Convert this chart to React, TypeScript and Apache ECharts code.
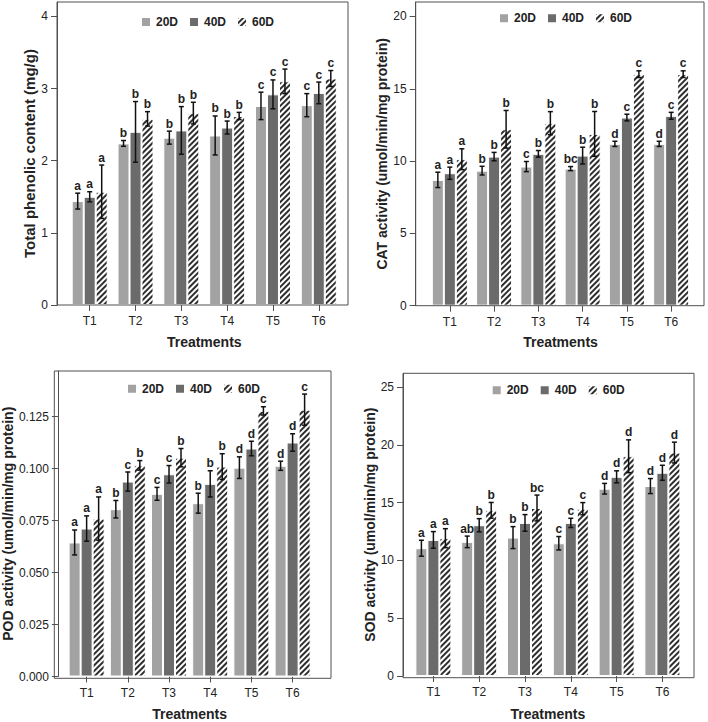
import React, { useEffect, useRef } from "react";
import * as echarts from "echarts";

const CATEGORIES = ["T1", "T2", "T3", "T4", "T5", "T6"];
const SERIES_NAMES = ["20D", "40D", "60D"];

// Total phenolic content (mg/g)
const PHENOLIC_20D = [1.44, 2.24, 2.32, 2.35, 2.76, 2.77];
const PHENOLIC_40D = [1.5, 2.4, 2.42, 2.46, 2.92, 2.94];
const PHENOLIC_60D = [1.57, 2.58, 2.66, 2.62, 3.1, 3.14];
const PHENOLIC_ERR_20D = [0.11, 0.04, 0.09, 0.27, 0.19, 0.16];
const PHENOLIC_ERR_40D = [0.07, 0.42, 0.33, 0.09, 0.2, 0.15];
const PHENOLIC_ERR_60D = [0.37, 0.1, 0.15, 0.05, 0.17, 0.11];
const PHENOLIC_LET_20D = ["a", "b", "b", "b", "c", "c"];
const PHENOLIC_LET_40D = ["a", "b", "b", "b", "c", "c"];
const PHENOLIC_LET_60D = ["a", "b", "b", "b", "c", "c"];
const PHENOLIC_TICKS = [0, 1, 2, 3, 4];

// CAT activity
const CAT_20D = [8.7, 9.34, 9.62, 9.48, 11.19, 11.19];
const CAT_40D = [9.16, 10.31, 10.5, 10.38, 13.01, 13.13];
const CAT_60D = [10.13, 12.2, 12.62, 11.88, 16.01, 16.01];
const CAT_ERR_20D = [0.53, 0.3, 0.35, 0.14, 0.18, 0.18];
const CAT_ERR_40D = [0.42, 0.29, 0.23, 0.58, 0.23, 0.24];
const CAT_ERR_60D = [0.72, 1.3, 0.8, 1.55, 0.23, 0.23];
const CAT_LET_20D = ["a", "b", "c", "bc", "d", "d"];
const CAT_LET_40D = ["a", "b", "b", "b", "c", "c"];
const CAT_LET_60D = ["a", "b", "b", "b", "c", "c"];
const CAT_TICKS = [0, 5, 10, 15, 20];

// POD activity
const POD_20D = [0.0645, 0.0805, 0.0879, 0.0834, 0.1005, 0.1014];
const POD_40D = [0.0712, 0.0938, 0.0973, 0.0927, 0.1097, 0.1126];
const POD_60D = [0.076, 0.1016, 0.1053, 0.101, 0.1278, 0.1284];
const POD_ERR_20D = [0.006, 0.0042, 0.0031, 0.0048, 0.0052, 0.0022];
const POD_ERR_40D = [0.0061, 0.0046, 0.0042, 0.0063, 0.0035, 0.0042];
const POD_ERR_60D = [0.0104, 0.0023, 0.0044, 0.0062, 0.002, 0.0075];
const POD_LET_20D = ["a", "b", "c", "b", "d", "d"];
const POD_LET_40D = ["a", "c", "c", "b", "d", "d"];
const POD_LET_60D = ["a", "b", "b", "b", "c", "c"];
const POD_TICKS = [0, 0.025, 0.05, 0.075, 0.1, 0.125];

// SOD activity
const SOD_20D = [11.06, 11.61, 11.98, 11.49, 16.21, 16.44];
const SOD_40D = [11.78, 13.05, 13.25, 13.25, 17.24, 17.59];
const SOD_60D = [11.93, 14.34, 14.54, 14.48, 19.02, 19.34];
const SOD_ERR_20D = [0.69, 0.5, 0.95, 0.58, 0.46, 0.65];
const SOD_ERR_40D = [0.72, 0.57, 0.72, 0.4, 0.52, 0.65];
const SOD_ERR_60D = [0.82, 0.68, 1.12, 0.53, 1.42, 0.9];
const SOD_LET_20D = ["a", "ab", "b", "c", "d", "d"];
const SOD_LET_40D = ["a", "b", "b", "c", "d", "d"];
const SOD_LET_60D = ["a", "b", "bc", "c", "d", "d"];
const SOD_TICKS = [0, 5, 10, 15, 20, 25];

const FONT = '"Liberation Sans", Arial, Helvetica, sans-serif';
const BAR_W = 12;
const CAP = 2.5;
const AXIS_COLOR = "#505050";
const TEXT_COLOR = "#222";
const COLORS = ["#a2a2a2", "#6b6b6b", "#ffffff"];

const PANELS = [
  {
    yName: "Total phenolic content (mg/g)",
    values: [PHENOLIC_20D, PHENOLIC_40D, PHENOLIC_60D],
    errs: [PHENOLIC_ERR_20D, PHENOLIC_ERR_40D, PHENOLIC_ERR_60D],
    letters: [PHENOLIC_LET_20D, PHENOLIC_LET_40D, PHENOLIC_LET_60D],
    ticks: PHENOLIC_TICKS,
    decimals: 0,
    yMax: 4.2,
    frame: { l: 57, r: 348, t: 2, b: 305 },
    band: { l: 66.8, r: 341.7 },
    yNameGap: 14,
    yNameSize: 15,
    xNameGap: 29.5,
    legend: { left: 140, top: 16 },
  },
  {
    yName: "CAT activity (umol/min/mg protein)",
    values: [CAT_20D, CAT_40D, CAT_60D],
    errs: [CAT_ERR_20D, CAT_ERR_40D, CAT_ERR_60D],
    letters: [CAT_LET_20D, CAT_LET_40D, CAT_LET_60D],
    ticks: CAT_TICKS,
    decimals: 0,
    yMax: 21,
    frame: { l: 415.7, r: 704, t: 2, b: 305.7 },
    band: { l: 427.7, r: 693.3 },
    yNameGap: 20.5,
    yNameSize: 14,
    xNameGap: 29,
    legend: { left: 498, top: 12.3 },
  },
  {
    yName: "POD activity (umol/min/mg protein)",
    values: [POD_20D, POD_40D, POD_60D],
    errs: [POD_ERR_20D, POD_ERR_40D, POD_ERR_60D],
    letters: [POD_LET_20D, POD_LET_40D, POD_LET_60D],
    ticks: POD_TICKS,
    decimals: 3,
    yMax: 0.147,
    frame: { l: 54.3, r: 331, t: 371, b: 678.3 },
    band: { l: 62.4, r: 313.2 },
    yNameGap: 39,
    yNameSize: 14,
    xNameGap: 30.5,
    legend: { left: 126, top: 382.7 },
  },
  {
    yName: "SOD activity (umol/min/mg protein)",
    values: [SOD_20D, SOD_40D, SOD_60D],
    errs: [SOD_ERR_20D, SOD_ERR_40D, SOD_ERR_60D],
    letters: [SOD_LET_20D, SOD_LET_40D, SOD_LET_60D],
    ticks: SOD_TICKS,
    decimals: 0,
    yMax: 26.2,
    frame: { l: 403, r: 694, t: 373.3, b: 677.7 },
    band: { l: 410.5, r: 685.3 },
    yNameGap: 21.7,
    yNameSize: 14,
    xNameGap: 31,
    legend: { left: 490.7, top: 384.3 },
  },
];

function barStyle(k: number) {
  const style: any = {
    color: COLORS[k],
    borderColor: "#ffffff",
    borderWidth: 1,
  };
  if (k === 2) {
    style.decal = {
      symbol: "rect",
      symbolSize: 1,
      dashArrayX: [1, 0],
      dashArrayY: [1.7, 1.2],
      rotation: -Math.PI / 4,
      color: "#2e2e2e",
    };
  }
  return style;
}

function buildOption() {
  const grid: any[] = [];
  const xAxis: any[] = [];
  const yAxis: any[] = [];
  const series: any[] = [];
  const legend: any[] = [];
  const graphic: any[] = [];

  PANELS.forEach((p, i) => {
    grid.push({
      left: p.band.l,
      top: p.frame.t,
      width: p.band.r - p.band.l,
      height: p.frame.b - p.frame.t,
      containLabel: false,
    });
    xAxis.push({
      type: "category",
      gridIndex: i,
      data: CATEGORIES,
      name: "Treatments",
      nameLocation: "middle",
      nameGap: p.xNameGap,
      nameTextStyle: { fontFamily: FONT, fontSize: 14, fontWeight: "bold", color: TEXT_COLOR },
      axisLine: { show: false },
      axisTick: { show: true, alignWithLabel: true, length: 6, lineStyle: { color: AXIS_COLOR } },
      axisLabel: { fontFamily: FONT, fontSize: 12, color: TEXT_COLOR, margin: 10 },
      splitLine: { show: false },
    });
    yAxis.push({
      type: "value",
      gridIndex: i,
      min: 0,
      max: p.yMax,
      offset: p.band.l - p.frame.l,
      name: p.yName,
      nameLocation: "middle",
      nameGap: p.yNameGap,
      nameTextStyle: { fontFamily: FONT, fontSize: p.yNameSize, fontWeight: "bold", color: TEXT_COLOR },
      axisLine: { show: true, lineStyle: { color: AXIS_COLOR } },
      axisTick: { show: true, length: 6, lineStyle: { color: AXIS_COLOR }, customValues: p.ticks },
      axisLabel: {
        fontFamily: FONT,
        fontSize: 12,
        color: TEXT_COLOR,
        margin: 9,
        customValues: p.ticks,
        formatter: (v: number) => v.toFixed(p.decimals),
      },
      splitLine: { show: false },
    });
    SERIES_NAMES.forEach((name, k) => {
      series.push({
        type: "bar",
        name,
        xAxisIndex: i,
        yAxisIndex: i,
        data: p.values[k],
        barWidth: BAR_W,
        barGap: "0%",
        itemStyle: barStyle(k),
        emphasis: { disabled: true },
        z: 2,
      });
    });
    const errData: number[][] = [];
    for (let c = 0; c < CATEGORIES.length; c++) {
      for (let k = 0; k < 3; k++) {
        errData.push([c, k, p.values[k][c], p.errs[k][c]]);
      }
    }
    series.push({
      type: "custom",
      name: "err" + i,
      xAxisIndex: i,
      yAxisIndex: i,
      data: errData,
      encode: { x: 0, y: 2 },
      clip: false,
      z: 5,
      silent: true,
      renderItem: (params: any, api: any) => {
        const c = api.value(0);
        const k = api.value(1);
        const v = api.value(2);
        const e = api.value(3);
        const base = api.coord([c, v]);
        const x = base[0] + (k - 1) * BAR_W;
        const yTop = api.coord([c, v + e])[1];
        const yBot = api.coord([c, v - e])[1];
        const ls = { stroke: "#111", lineWidth: 1.5 };
        return {
          type: "group",
          children: [
            { type: "line", shape: { x1: x, y1: yTop, x2: x, y2: yBot }, style: ls },
            { type: "line", shape: { x1: x - CAP, y1: yTop, x2: x + CAP, y2: yTop }, style: ls },
            { type: "line", shape: { x1: x - CAP, y1: yBot, x2: x + CAP, y2: yBot }, style: ls },
            {
              type: "text",
              style: {
                text: p.letters[k][c],
                x,
                y: yTop - 1.5,
                align: "center",
                verticalAlign: "bottom",
                fontFamily: FONT,
                fontSize: 12,
                fontWeight: "bold",
                fill: TEXT_COLOR,
              },
            },
          ],
        };
      },
    });
    legend.push({
      data: SERIES_NAMES,
      left: p.legend.left,
      top: p.legend.top,
      padding: 0,
      orient: "horizontal",
      icon: "rect",
      itemWidth: 10,
      itemHeight: 10,
      itemGap: 10,
      selectedMode: false,
      textStyle: { fontFamily: FONT, fontSize: 12, fontWeight: "bold", color: TEXT_COLOR },
    });
    graphic.push({
      type: "rect",
      shape: {
        x: p.frame.l,
        y: p.frame.t,
        width: p.frame.r - p.frame.l,
        height: p.frame.b - p.frame.t,
      },
      style: { fill: "none", stroke: AXIS_COLOR, lineWidth: 1 },
      silent: true,
      z: 10,
    });
  });

  return {
    animation: false,
    backgroundColor: "#ffffff",
    textStyle: { fontFamily: FONT },
    grid,
    xAxis,
    yAxis,
    series,
    legend,
    graphic,
  };
}

export default function App() {
  const ref = useRef<HTMLDivElement | null>(null);
  useEffect(() => {
    if (!ref.current) return;
    const chart = echarts.init(ref.current, null, { renderer: "svg" });
    chart.setOption(buildOption() as any);
    return () => chart.dispose();
  }, []);
  return (
    <div
      ref={ref}
      style={{ position: "fixed", left: 0, top: 0, width: 708, height: 722, background: "#fff" }}
    />
  );
}
